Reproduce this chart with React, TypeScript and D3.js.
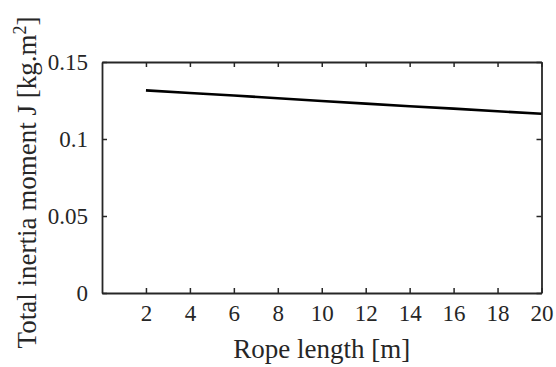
import React, { useEffect, useRef } from "react";
import * as d3 from "d3";

// rope length [m] vs total inertia moment J [kg.m^2]
const ropeLength = [2, 4, 6, 8, 10, 12, 14, 16, 18, 20];
const inertia = [0.1316, 0.1299, 0.1282, 0.1265, 0.1247, 0.1230, 0.1213, 0.1197, 0.1180, 0.1164];
const xTicks = [2, 4, 6, 8, 10, 12, 14, 16, 18, 20];
const yTicks = [0, 0.05, 0.1, 0.15];
const yTickLabels = ["0", "0.05", "0.1", "0.15"];

const App = () => {
  const svgRef = useRef<SVGSVGElement>(null);

  useEffect(() => {
    const svg = d3.select(svgRef.current);
    svg.selectAll("*").remove();

    const width = 556, height = 367;
    const margin = { top: 62, right: 14.5, bottom: 74, left: 102 };
    const font = "'Liberation Serif', 'Times New Roman', Times, serif";
    const axisColor = "#262626";

    const x = d3.scaleLinear()
      .domain([0, 20])
      .range([margin.left, width - margin.right]);
    const y = d3.scaleLinear()
      .domain([0, 0.15])
      .range([height - margin.bottom, margin.top]);

    svg.attr("width", width).attr("height", height)
      .style("font-family", font);

    // bottom / top axes, ticks pointing in (box on)
    const bottom = svg.append("g")
      .attr("transform", `translate(0,${y(0)})`)
      .call(d3.axisBottom(x).tickValues(xTicks).tickSizeInner(-5).tickSizeOuter(0).tickPadding(12));
    const top = svg.append("g")
      .attr("transform", `translate(0,${y(0.15)})`)
      .call(d3.axisTop(x).tickValues(xTicks).tickSizeInner(-5).tickSizeOuter(0).tickFormat(() => ""));
    const left = svg.append("g")
      .attr("transform", `translate(${x(0)},0)`)
      .call(d3.axisLeft(y).tickValues(yTicks).tickSizeInner(-5).tickSizeOuter(0).tickPadding(14)
        .tickFormat((d, i) => yTickLabels[i]));
    const right = svg.append("g")
      .attr("transform", `translate(${x(20)},0)`)
      .call(d3.axisRight(y).tickValues(yTicks).tickSizeInner(-5).tickSizeOuter(0).tickFormat(() => ""));

    [bottom, top, left, right].forEach(g => {
      g.attr("font-family", null).attr("font-size", 23);
      g.select(".domain").attr("stroke", axisColor).attr("stroke-width", 1.8);
      g.selectAll(".tick line").attr("stroke", axisColor).attr("stroke-width", 1.5);
      g.selectAll("text").attr("fill", axisColor);
    });

    // the curve
    svg.append("path")
      .datum(ropeLength.map((l, i) => [l, inertia[i]] as [number, number]))
      .attr("fill", "none")
      .attr("stroke", "#000")
      .attr("stroke-width", 2.6)
      .attr("d", d3.line<[number, number]>().x(d => x(d[0])).y(d => y(d[1])));

    // axis labels
    svg.append("text")
      .attr("x", (x(0) + x(20)) / 2)
      .attr("y", 358)
      .attr("text-anchor", "middle")
      .attr("fill", axisColor)
      .attr("font-size", 27)
      .text("Rope length [m]");

    const yl = svg.append("text")
      .attr("transform", `translate(36,${(y(0) + y(0.15)) / 2 + 5}) rotate(-90)`)
      .attr("text-anchor", "middle")
      .attr("fill", axisColor)
      .attr("font-size", 27);
    yl.append("tspan").text("Total inertia moment J [kg.m");
    yl.append("tspan").attr("dy", -10).attr("font-size", 18).text("2");
    yl.append("tspan").attr("dy", 10).text("]");
  }, []);

  return (
    <svg ref={svgRef} style={{ position: "absolute", left: 0, top: 0, background: "#fff" }}></svg>
  );
};

export default App;
